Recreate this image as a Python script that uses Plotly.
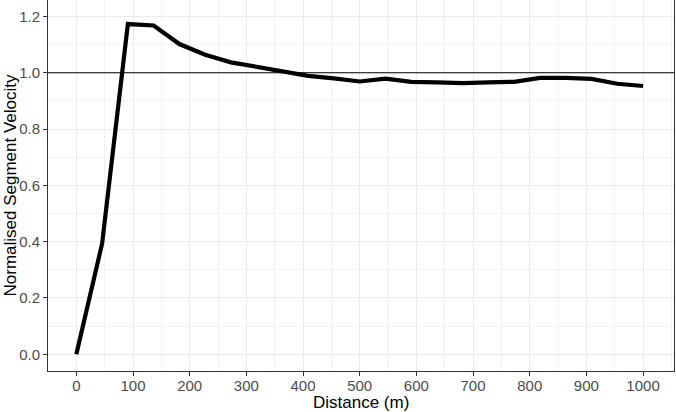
import plotly.graph_objects as go

# Data
distance = [i * 1000 / 22 for i in range(23)]
velocity = [0.0, 0.393, 1.173, 1.168, 1.102, 1.064, 1.037, 1.022, 1.005, 0.989,
            0.980, 0.969, 0.979, 0.968, 0.966, 0.963, 0.966, 0.968, 0.982, 0.982,
            0.978, 0.961, 0.953]
ref_level = 1.0
x_ticks = list(range(0, 1001, 100))
y_ticks = [0.0, 0.2, 0.4, 0.6, 0.8, 1.0, 1.2]
x_title = "Distance (m)"
y_title = "Normalised Segment Velocity"

fig = go.Figure()
fig.add_trace(go.Scatter(x=distance, y=velocity, mode="lines",
                         line=dict(color="black", width=4.2), showlegend=False))
fig.add_hline(y=ref_level, line=dict(color="black", width=1.2))

font = "Liberation Sans, Arial, sans-serif"
fig.update_layout(
    width=676, height=412,
    margin=dict(l=48, r=2, t=0, b=41),
    paper_bgcolor="white", plot_bgcolor="white",
    font=dict(family=font),
    xaxis=dict(
        range=[-50, 1054.6], tickvals=x_ticks, ticktext=[str(v) for v in x_ticks],
        showgrid=True, gridcolor="#EBEBEB", gridwidth=1.3,
        minor=dict(dtick=50, tick0=0, showgrid=True, gridcolor="#F2F2F2", gridwidth=1),
        showline=True, mirror=True, linecolor="#333333", linewidth=1,
        ticks="outside", ticklen=4, tickcolor="#333333", tickwidth=1,
        tickfont=dict(size=15, color="#4D4D4D", family=font),
        ticklabelstandoff=-3,
        zeroline=False, automargin=False,
    ),
    yaxis=dict(
        range=[-0.0594, 1.2585], tickvals=y_ticks, tickformat=".1f",
        showgrid=True, gridcolor="#EBEBEB", gridwidth=1.3,
        minor=dict(dtick=0.1, tick0=0, showgrid=True, gridcolor="#F2F2F2", gridwidth=1),
        showline=True, mirror=True, linecolor="#333333", linewidth=1,
        ticks="outside", ticklen=4, tickcolor="#333333", tickwidth=1,
        tickfont=dict(size=15, color="#4D4D4D", family=font),
        zeroline=False, automargin=False,
    ),
    annotations=[
        dict(text=x_title, xref="paper", yref="paper", x=0.5, y=-0.0836,
             xanchor="center", yanchor="middle", showarrow=False,
             font=dict(size=17, color="black", family=font)),
        dict(text=y_title, xref="paper", yref="paper", x=-0.0607, y=0.5,
             xanchor="center", yanchor="middle", showarrow=False, textangle=-90,
             font=dict(size=17, color="black", family=font)),
    ],
)
fig.write_html("out.html")
